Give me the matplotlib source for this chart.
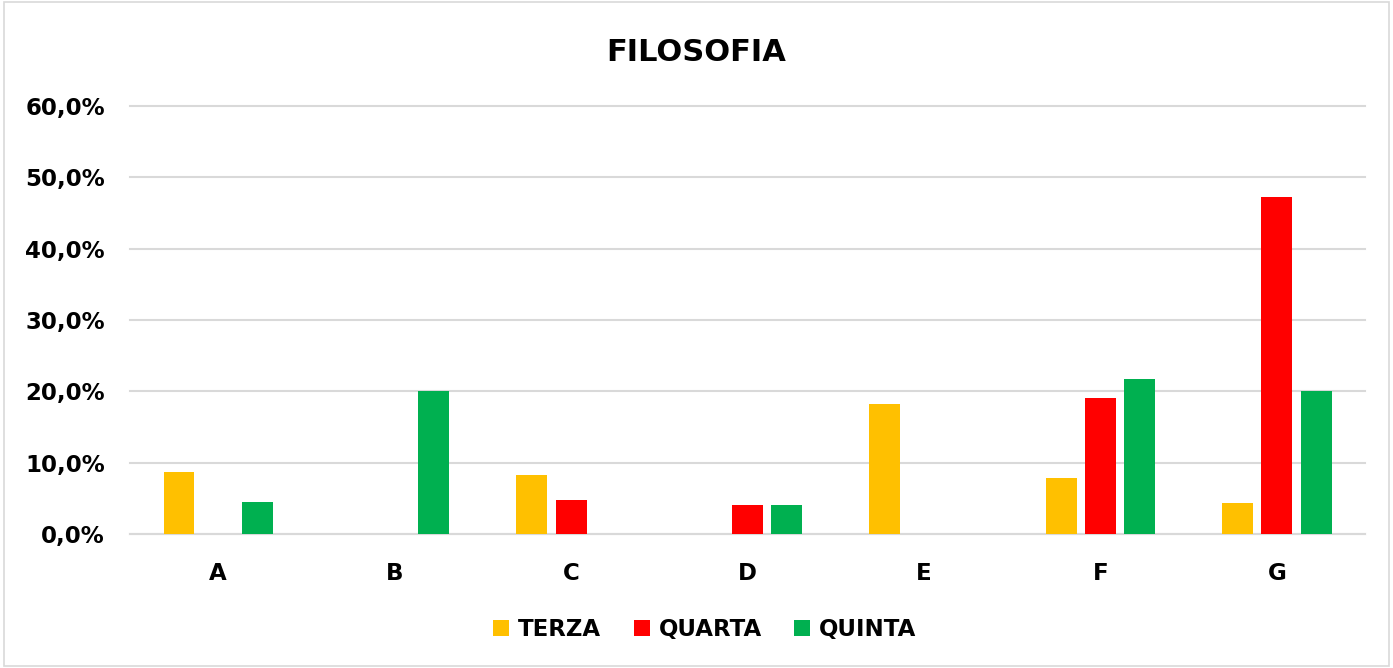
import numpy as np
import matplotlib.pyplot as plt
from matplotlib.patches import Rectangle
from matplotlib.ticker import FuncFormatter

categories = ["A", "B", "C", "D", "E", "F", "G"]
series = ["TERZA", "QUARTA", "QUINTA"]
terza = [8.7, 0.0, 8.3, 0.0, 18.2, 7.9, 4.3]
quarta = [0.0, 0.0, 4.8, 4.1, 0.0, 19.0, 47.3]
quinta = [4.5, 20.0, 0.0, 4.1, 0.0, 21.7, 20.0]
colors = ["#FFC000", "#FF0000", "#00B050"]

fig = plt.figure(figsize=(13.93, 6.68), dpi=100)
ax = fig.add_axes([0.0933, 0.2006, 0.8867, 0.6407])

x = np.arange(len(categories))
offset = 0.222
width = 0.175
for i, (name, vals) in enumerate(zip(series, [terza, quarta, quinta])):
    ax.bar(x + (i - 1) * offset, vals, width=width, color=colors[i], label=name, zorder=3)

ax.set_xlim(-0.5, len(categories) - 0.5)
ax.set_ylim(0, 60)
ax.set_yticks(np.arange(0, 61, 10))
ax.yaxis.set_major_formatter(FuncFormatter(lambda v, p: f"{v:.1f}%".replace(".", ",")))
ax.set_xticks(x)
ax.set_xticklabels(categories)
ax.grid(axis="y", color="#D9D9D9", linewidth=1.5, zorder=0)
for line in ax.get_ygridlines():
    line.set_clip_on(False)
for s in ["top", "right", "left"]:
    ax.spines[s].set_visible(False)
ax.spines["bottom"].set_color("#D9D9D9")
ax.spines["bottom"].set_linewidth(1.5)
ax.tick_params(length=0, labelsize=16.5, colors="black")
ax.tick_params(axis="x", pad=20)
ax.tick_params(axis="y", pad=18)
for lbl in ax.get_xticklabels() + ax.get_yticklabels():
    lbl.set_fontweight("bold")

fig.text(0.5, 0.922, "FILOSOFIA", ha="center", va="center", fontsize=22, fontweight="bold")

leg = fig.legend(loc="center", bbox_to_anchor=(0.506, 0.057), ncol=3, frameon=False,
                 prop={"size": 16.5, "weight": "bold"}, handlelength=0.7, handleheight=0.7,
                 handletextpad=0.4, columnspacing=1.4)

fig.patches.append(Rectangle((0.003, 0.003), 0.994, 0.994, transform=fig.transFigure,
                             fill=False, edgecolor="#D9D9D9", linewidth=1.2))

fig.savefig("out.png", dpi=100)
